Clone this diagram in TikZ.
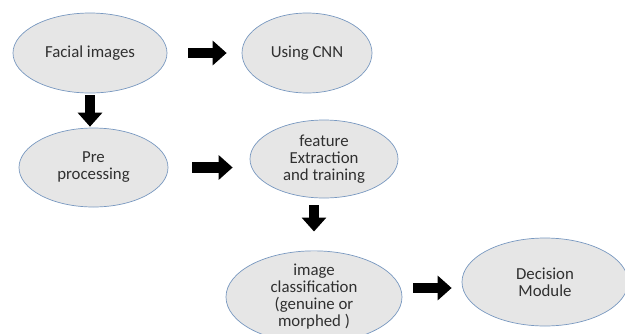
\documentclass[tikz,border=0pt]{standalone}
\usepackage{fontspec}
\setmainfont{Carlito}
\usetikzlibrary{shapes.geometric,arrows.meta}
\definecolor{efill}{HTML}{E6E6E6}
\definecolor{eline}{HTML}{7898C0}
\definecolor{etext}{HTML}{303030}
\begin{document}
\begin{tikzpicture}[x=1pt,y=-1pt,
  ell/.style={ellipse, draw=eline, line width=0.7pt, fill=efill, inner sep=0pt,
    text=etext, align=center, font=\fontsize{16.8}{17}\selectfont},
  barrow/.style={draw=black, line width=10.5pt, -{Triangle[length=14pt,width=24pt]}}]
\useasboundingbox (0,0) rectangle (625,333);
\node[ell, minimum width=154pt, minimum height=80pt] (fi) at (90,53) {Facial images};
\node[ell, minimum width=130pt, minimum height=80pt] (cnn) at (307,53) {Using CNN};
\node[ell, minimum width=149pt, minimum height=79pt] (pre) at (93.5,167.5) {Pre\\processing};
\node[ell, minimum width=148pt, minimum height=78pt] (fe) at (324,159) {feature\\Extraction\\and training};
\node[ell, minimum width=176pt, minimum height=82pt] (ic) at (314,297) {image\\classification\\(genuine or\\morphed )};
\node[ell, minimum width=166pt, minimum height=88pt] (dm) at (545,282) {Decision\\Module};
\draw[barrow, shorten <=21pt, shorten >=15pt] (fi.east) -- (cnn.west);
\draw[barrow, shorten <=2pt, shorten >=1pt] (fi.south) -- (fi.south |- pre.north);
\draw[barrow, shorten <=24pt, shorten >=17pt] (pre.east) -- (pre.east -| fe.west);
\draw[barrow, shorten <=7pt, shorten >=19pt] (ic.north |- fe.south) -- (ic.north);
\draw[barrow, shorten <=11pt, shorten >=10pt] ([yshift=9pt]ic.east) -- ([yshift=9pt]ic.east -| dm.west);
\end{tikzpicture}
\end{document}
